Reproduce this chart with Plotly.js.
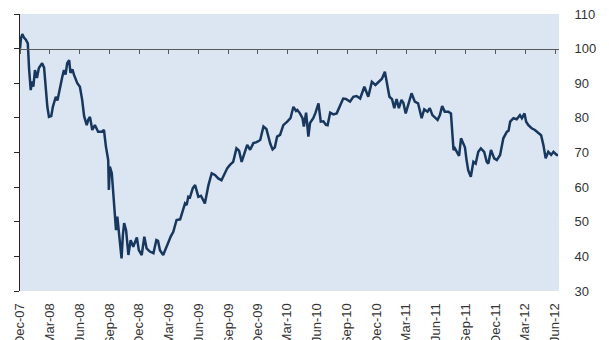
<!DOCTYPE html>
<html>
<head>
<meta charset="utf-8">
<script src="https://cdn.plot.ly/plotly-3.0.1.min.js"></script>
<style>html,body{margin:0;padding:0;background:#fff;}#chart{width:609px;height:340px;}</style>
</head>
<body>
<div id="chart"></div>
<script>
const dates = [
"2007-12-01","2007-12-04","2007-12-08","2007-12-13","2007-12-19","2007-12-25","2007-12-29",
"2008-01-03","2008-01-07","2008-01-11","2008-01-16","2008-01-22","2008-01-28",
"2008-02-07","2008-02-13","2008-02-18","2008-02-23","2008-02-28",
"2008-03-06","2008-03-11","2008-03-20","2008-03-25","2008-03-30",
"2008-04-09","2008-04-14","2008-04-19","2008-04-24","2008-04-30",
"2008-05-04","2008-05-10","2008-05-15","2008-05-20","2008-05-25",
"2008-06-02","2008-06-09","2008-06-15","2008-06-23","2008-06-28",
"2008-07-03","2008-07-10","2008-07-18","2008-07-24","2008-07-28",
"2008-08-08","2008-08-15","2008-08-21","2008-08-28","2008-08-30",
"2008-09-02","2008-09-08","2008-09-13","2008-09-18","2008-09-21","2008-09-25","2008-09-30",
"2008-10-08","2008-10-12","2008-10-16","2008-10-22","2008-10-29",
"2008-11-05","2008-11-13","2008-11-24","2008-11-30",
"2008-12-09","2008-12-17","2008-12-24",
"2009-01-03","2009-01-14","2009-01-23","2009-01-28",
"2009-02-03","2009-02-13","2009-02-23","2009-02-27",
"2009-03-08","2009-03-16","2009-03-26",
"2009-04-06","2009-04-16","2009-04-21","2009-04-26",
"2009-05-01","2009-05-06","2009-05-15","2009-05-22","2009-05-26",
"2009-06-01","2009-06-09","2009-06-15","2009-06-21",
"2009-07-02","2009-07-12","2009-07-22",
"2009-08-01","2009-08-11","2009-08-22","2009-08-29",
"2009-09-06","2009-09-16","2009-09-26",
"2009-10-04","2009-10-12","2009-10-22","2009-10-29",
"2009-11-07","2009-11-17","2009-11-27",
"2009-12-08","2009-12-18","2009-12-27",
"2010-01-08","2010-01-15","2010-01-22","2010-01-29",
"2010-02-07","2010-02-17",
"2010-03-01","2010-03-11","2010-03-20","2010-03-28",
"2010-04-01","2010-04-09","2010-04-17","2010-04-21","2010-04-28",
"2010-05-05","2010-05-10","2010-05-20","2010-05-27",
"2010-06-05","2010-06-12","2010-06-20","2010-06-28",
"2010-07-03","2010-07-11","2010-07-21","2010-07-31",
"2010-08-11","2010-08-20","2010-08-28",
"2010-09-10","2010-09-20","2010-09-30",
"2010-10-11","2010-10-24",
"2010-11-05","2010-11-16","2010-11-27",
"2010-12-08","2010-12-17","2010-12-26",
"2011-01-02","2011-01-09","2011-01-17","2011-01-24","2011-01-31",
"2011-02-07","2011-02-15","2011-02-21","2011-02-28",
"2011-03-08","2011-03-18","2011-03-28",
"2011-04-07","2011-04-18","2011-04-26",
"2011-05-06","2011-05-13","2011-05-21","2011-05-29",
"2011-06-06","2011-06-13","2011-06-20","2011-06-28",
"2011-07-09","2011-07-17","2011-07-21","2011-07-25","2011-07-29",
"2011-08-05","2011-08-11","2011-08-17","2011-08-24","2011-08-29",
"2011-09-03","2011-09-08","2011-09-16","2011-09-24",
"2011-10-01","2011-10-09","2011-10-17","2011-10-27",
"2011-11-04","2011-11-09","2011-11-17","2011-11-27",
"2011-12-05","2011-12-15","2011-12-25",
"2012-01-05","2012-01-10","2012-01-15","2012-01-25",
"2012-02-04","2012-02-14","2012-02-20","2012-02-28",
"2012-03-04","2012-03-11","2012-03-21","2012-03-31",
"2012-04-11","2012-04-19","2012-04-26",
"2012-05-03","2012-05-11","2012-05-20","2012-05-27",
"2012-06-06","2012-06-10"
];
const values = [
100.0,103.0,104.2,103.2,102.6,101.5,94.0,
88.0,90.5,89.0,93.8,91.5,94.4,
95.8,94.5,89.0,83.2,80.3,
80.5,83.2,86.1,85.0,87.6,
91.9,93.8,92.5,95.8,96.7,
93.0,94.0,92.4,91.0,90.0,
89.0,85.2,80.5,77.9,79.5,
80.3,76.5,77.9,76.8,76.0,
76.0,76.5,71.7,67.8,59.2,
65.9,64.0,58.3,52.5,47.6,51.5,46.7,
39.4,46.0,49.6,47.5,40.4,
44.7,42.8,45.5,41.8,
40.4,45.7,42.3,
41.4,40.9,44.7,44.5,
41.8,40.4,42.8,43.5,
45.7,47.1,50.5,
50.7,54.3,55.3,54.8,
57.2,57.0,59.7,60.6,59.5,
57.2,57.5,56.5,55.3,
60.6,64.0,63.5,
62.5,62.0,64.4,65.5,
66.4,67.3,71.2,
70.5,67.3,70.2,72.2,
70.8,72.7,73.0,
73.6,77.5,76.8,
72.5,70.9,71.5,74.6,
75.1,77.9,
78.9,79.9,83.2,82.0,
82.3,81.3,79.9,77.5,81.5,
74.6,78.5,79.9,81.5,
84.2,78.9,79.0,78.0,
77.9,81.5,81.0,81.3,
83.5,85.6,85.5,
84.7,86.1,86.3,
85.6,89.0,
86.1,90.4,89.5,
90.4,91.3,93.3,
90.0,86.1,85.4,82.8,85.4,
82.8,85.2,84.3,81.3,
84.0,87.1,84.7,
84.2,79.9,82.5,
81.8,82.8,80.8,80.2,
79.4,80.8,83.4,81.8,
81.8,81.3,75.5,70.7,71.2,
69.8,69.0,74.1,72.7,71.5,
67.8,64.9,63.0,67.3,
66.8,70.2,71.2,70.2,
67.3,66.8,70.7,68.3,
67.8,69.3,74.1,
76.0,76.3,78.9,79.9,
79.6,80.8,79.9,81.3,
78.9,77.9,77.0,76.5,
75.5,75.0,72.2,
68.3,70.2,69.3,70.2,
69.3,69.3
];
const tickDates = ["2007-12-01","2008-03-01","2008-06-01","2008-09-01","2008-12-01","2009-03-01","2009-06-01","2009-09-01","2009-12-01","2010-03-01","2010-06-01","2010-09-01","2010-12-01","2011-03-01","2011-06-01","2011-09-01","2011-12-01","2012-03-01","2012-06-01"];
const tickLabels = ["Dec-07","Mar-08","Jun-08","Sep-08","Dec-08","Mar-09","Jun-09","Sep-09","Dec-09","Mar-10","Jun-10","Sep-10","Dec-10","Mar-11","Jun-11","Sep-11","Dec-11","Mar-12","Jun-12"];
const yTicks = [30,40,50,60,70,80,90,100,110];
const yLabels = ["30","40","50","60","70","80","90","100","110"];

const xRange = ["2007-12-01","2012-06-13"];
const yRange = [30,110];
const fnt = {family:"Liberation Sans, Arial, sans-serif", size:13, color:"#333333"};

const traces = [
  {x: dates, y: values, type: "scatter", mode: "lines", xaxis: "x", yaxis: "y",
   line: {color: "#17375e", width: 2.5}, hoverinfo: "skip", showlegend: false},
  {x: [], y: [], type: "scatter", mode: "lines", xaxis: "x2", yaxis: "y2", showlegend: false}
];

const layout = {
  width: 609, height: 340,
  margin: {l: 20, r: 50, t: 14, b: 49, pad: 0},
  paper_bgcolor: "#ffffff",
  plot_bgcolor: "#dce6f2",
  font: fnt,
  showlegend: false,
  xaxis: {
    type: "date", range: xRange, tickmode: "array", tickvals: tickDates, ticktext: tickLabels,
    tickangle: -90, showgrid: false, zeroline: false, showline: false,
    ticks: "outside", ticklen: 6, tickcolor: "rgba(0,0,0,0)", tickfont: fnt
  },
  xaxis2: {
    type: "date", range: xRange, overlaying: "x", anchor: "free", position: 0.875, side: "bottom",
    tickmode: "array", tickvals: tickDates, showticklabels: false,
    showgrid: false, zeroline: false, showline: true, linecolor: "#595959", linewidth: 1,
    ticks: "outside", ticklen: 4, tickwidth: 1, tickcolor: "#595959"
  },
  yaxis: {
    range: yRange, tickmode: "array", tickvals: yTicks, showticklabels: false,
    showgrid: false, zeroline: false, showline: true, linecolor: "#262626", linewidth: 1,
    ticks: "outside", ticklen: 5, tickcolor: "#262626", side: "left"
  },
  yaxis2: {
    range: yRange, overlaying: "y", side: "right", anchor: "x",
    tickmode: "array", tickvals: yTicks, ticktext: yLabels,
    showgrid: false, zeroline: false, showline: false,
    ticks: "outside", ticklen: 12, tickcolor: "rgba(0,0,0,0)", tickfont: {family: fnt.family, size: 13, color: "#333333"}
  }
};

Plotly.newPlot("chart", traces, layout, {staticPlot: true, displayModeBar: false});
</script>
</body>
</html>
